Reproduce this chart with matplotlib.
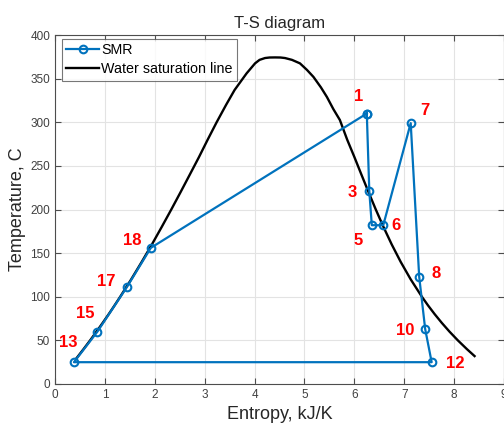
import matplotlib
matplotlib.use("Agg")
import matplotlib.pyplot as plt

plt.rcParams['font.family'] = ['Liberation Sans', 'DejaVu Sans']

# SMR cycle state points (entropy kJ/K, temperature C)
smr_labels = ['1', '3', '5', '6', '7', '8', '10', '12', '13', '15', '17', '18', '1']
smr_s = [6.25, 6.30, 6.35, 6.58, 7.13, 7.30, 7.42, 7.55, 0.38, 0.85, 1.44, 1.92, 6.25]
smr_t = [310, 221, 182, 182, 299, 123, 63, 25, 25, 60, 111, 156, 310]

# Water saturation line (liquid branch up to the top, then vapour branch)
sat_t = [30, 40, 50, 60, 70, 80, 90, 100, 120, 140, 160, 180, 200, 220, 240,
         260, 280, 300, 320, 337, 356, 367.5, 371.5, 373.6, 374.2, 374.3,
         374.2, 373.6, 371.5, 367.5, 360, 352, 340, 329, 315, 302.6, 280, 260,
         240, 220, 200, 180, 160, 140, 120, 100, 90, 80, 70, 60, 50, 40, 32]
sat_s = [0.437, 0.572, 0.704, 0.831, 0.955, 1.076, 1.193, 1.307, 1.528, 1.739,
         1.943, 2.139, 2.331, 2.518, 2.702, 2.885, 3.060, 3.240, 3.43, 3.60,
         3.84, 4.01, 4.10, 4.21, 4.30, 4.41, 4.52, 4.61, 4.75, 4.91, 5.05,
         5.18, 5.33, 5.45, 5.58, 5.71, 5.857, 6.002, 6.142, 6.284, 6.430,
         6.584, 6.749, 6.929, 7.129, 7.354, 7.478, 7.611, 7.754, 7.908, 8.075,
         8.256, 8.41]

# label text positions (data coords)
lab_text = ['1', '7', '3', '5', '6', '8', '10', '12', '13', '15', '17', '18']
lab_x = [6.08, 7.42, 5.95, 6.08, 6.83, 7.64, 7.02, 8.03, 0.27, 0.60, 1.02, 1.55]
lab_y = [329, 314, 220, 164, 182, 127, 61, 23, 48, 81, 117, 164]

fig = plt.figure(figsize=(5.04, 4.26), dpi=100)
ax = fig.add_axes([55/504, 42/426, 449/504, 349/426])

blue = '#0072BD'
ax.plot(smr_s, smr_t, '-o', color=blue, lw=1.6, ms=5.5, mfc='none',
        mew=1.5, label='SMR', zorder=3)
ax.plot(sat_s, sat_t, '-', color='black', lw=1.7,
        label='Water saturation line', zorder=2)

for t, x, y in zip(lab_text, lab_x, lab_y):
    ax.text(x, y, t, color='red', fontsize=12, fontweight='bold',
            ha='center', va='center', zorder=4)

ax.set_xlim(0, 9)
ax.set_ylim(0, 400)
ax.set_xticks(range(0, 10))
ax.set_yticks(range(0, 401, 50))
ax.grid(True, color='#e3e3e3', lw=0.8)
ax.set_axisbelow(True)

axcol = '#4d4d4d'
for sp in ax.spines.values():
    sp.set_color(axcol)
    sp.set_linewidth(0.8)
ax.tick_params(direction='in', length=4, width=0.8, colors=axcol,
               labelsize=8.5, labelcolor='#404040', top=True, right=True)

ax.set_xlabel('Entropy, kJ/K', fontsize=13, color='#262626', labelpad=4)
ax.set_ylabel('Temperature, C', fontsize=13, color='#262626', labelpad=3)
ax.set_title('T-S diagram', fontsize=12, color='#262626', pad=5)

leg = ax.legend(loc='upper left', bbox_to_anchor=(7/449, 1 - 4/349),
                fontsize=10.3, frameon=True, fancybox=False,
                edgecolor='#555555', borderaxespad=0, borderpad=0.3,
                handlelength=2.3, handletextpad=0.15, labelspacing=0.35)
leg.get_frame().set_linewidth(0.8)

fig.savefig('out.png', dpi=100)
